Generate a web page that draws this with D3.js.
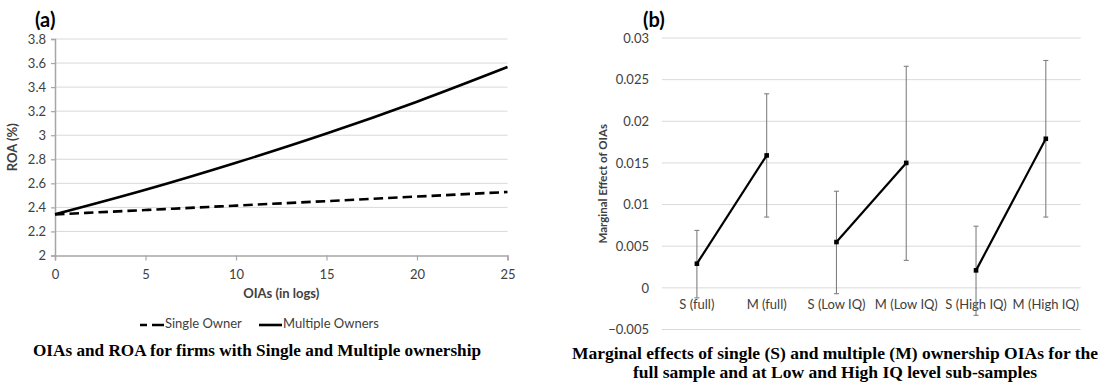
<!DOCTYPE html>
<html><head><meta charset="utf-8">
<script src="https://cdn.jsdelivr.net/npm/d3@7"></script>
<style>
body{margin:0;background:#fff;}
svg{display:block;}
</style></head>
<body>
<svg id="c" width="1099" height="383"></svg>
<script>
// ---- Panel (a) data ----
const oiaValues = [0, 5, 10, 15, 20, 25];
const singleOwner = [2.342, 2.378, 2.415, 2.452, 2.490, 2.528];
const multipleOwners = [2.342, 2.546, 2.771, 3.014, 3.279, 3.567];
const roaTicks = [2, 2.2, 2.4, 2.6, 2.8, 3, 3.2, 3.4, 3.6, 3.8];
const oiaTicks = [0, 5, 10, 15, 20, 25];

// ---- Panel (b) data ----
const categories = ["S (full)", "M (full)", "S (Low IQ)", "M (Low IQ)", "S (High IQ)", "M (High IQ)"];
const effects = [0.0029, 0.0159, 0.0055, 0.0150, 0.0021, 0.0179];
const upper = [0.0069, 0.0233, 0.0116, 0.0266, 0.0074, 0.0273];
const lower = [-0.0012, 0.0085, -0.0007, 0.0033, -0.0033, 0.0085];
const pairs = [[0, 1], [2, 3], [4, 5]];
const meTicks = [-0.005, 0, 0.005, 0.01, 0.015, 0.02, 0.025, 0.03];

const svg = d3.select("#c");
const tickFont = "Lato, 'Open Sans', sans-serif";
const serif = "'Liberation Serif', 'Times New Roman', serif";
const grid = "#d9d9d9";
const fs = 13;

// ================= Panel (a) =================
const xA = d3.scaleLinear().domain([0, 25]).range([55, 507.5]);
const yA = d3.scaleLinear().domain([2, 3.8]).range([255.5, 39]);
const gA = svg.append("g");

gA.selectAll(".grid").data(roaTicks.filter(d => d > 2)).join("line")
  .attr("x1", xA(0)).attr("x2", xA(25))
  .attr("y1", d => yA(d)).attr("y2", d => yA(d))
  .attr("stroke", grid).attr("stroke-width", 1);

const axA_y = gA.append("g").attr("transform", `translate(${xA(0)},0)`)
  .call(d3.axisLeft(yA).tickValues(roaTicks).tickFormat(d3.format("~g")).tickSize(4).tickPadding(5));
const axA_x = gA.append("g").attr("transform", `translate(0,${yA(2)})`)
  .call(d3.axisBottom(xA).tickValues(oiaTicks).tickSize(5).tickPadding(9));
[axA_y, axA_x].forEach(a => {
  a.select(".domain").attr("stroke", "#a6a6a6").attr("stroke-width", 1.5);
  a.selectAll(".tick line").attr("stroke", "#a6a6a6").attr("stroke-width", 1.2);
  a.selectAll("text").attr("font-family", tickFont).attr("font-size", fs).attr("fill", "#404040");
});

const lineA = d3.line().x((d, i) => xA(oiaValues[i])).y(d => yA(d)).curve(d3.curveMonotoneX);
gA.append("path").attr("d", lineA(singleOwner)).attr("fill", "none")
  .attr("stroke", "#000").attr("stroke-width", 2.6).attr("stroke-dasharray", "9.5,5");
gA.append("path").attr("d", lineA(multipleOwners)).attr("fill", "none")
  .attr("stroke", "#000").attr("stroke-width", 2.6);

gA.append("text").attr("x", 14).attr("y", (yA(2) + yA(3.8)) / 2)
  .attr("transform", `rotate(-90,14,${(yA(2) + yA(3.8)) / 2})`)
  .attr("text-anchor", "middle").attr("dominant-baseline", "middle")
  .attr("font-family", tickFont).attr("font-weight", "bold").attr("font-size", fs).attr("fill", "#404040")
  .text("ROA (%)");
gA.append("text").attr("x", (xA(0) + xA(25)) / 2).attr("y", 295)
  .attr("text-anchor", "middle").attr("dominant-baseline", "middle")
  .attr("font-family", tickFont).attr("font-weight", "bold").attr("font-size", fs).attr("fill", "#404040")
  .text("OIAs (in logs)");

// legend
const leg = gA.append("g").attr("transform", "translate(0,325)");
leg.append("line").attr("x1", 140).attr("x2", 164).attr("y1", 0).attr("y2", 0)
  .attr("stroke", "#000").attr("stroke-width", 2.6).attr("stroke-dasharray", "7,5,12");
leg.append("text").attr("x", 165).attr("y", 0).attr("dominant-baseline", "middle")
  .attr("font-family", tickFont).attr("font-size", fs).attr("fill", "#404040").text("Single Owner");
leg.append("line").attr("x1", 259).attr("x2", 282).attr("y1", 0).attr("y2", 0)
  .attr("stroke", "#000").attr("stroke-width", 2.6);
leg.append("text").attr("x", 283).attr("y", 0).attr("dominant-baseline", "middle")
  .attr("font-family", tickFont).attr("font-size", fs).attr("fill", "#404040").text("Multiple Owners");

gA.append("text").attr("x", 35).attr("y", 27)
  .attr("font-family", tickFont).attr("font-weight", "bold").attr("font-size", 20).attr("fill", "#000").text("(a)");

gA.append("text").attr("x", 257).attr("y", 352).attr("text-anchor", "middle").attr("dominant-baseline", "middle")
  .attr("font-family", serif).attr("font-weight", "bold").attr("font-size", 17.2)
  .text("OIAs and ROA for firms with Single and Multiple ownership");

// ================= Panel (b) =================
const xB = d3.scaleBand().domain(categories).range([662, 1080.7]);
const yB = d3.scaleLinear().domain([-0.005, 0.03]).range([329.5, 38]);
const gB = svg.append("g");

gB.selectAll(".grid").data(meTicks).join("line")
  .attr("x1", xB.range()[0]).attr("x2", xB.range()[1])
  .attr("y1", d => yB(d)).attr("y2", d => yB(d))
  .attr("stroke", grid).attr("stroke-width", 1);

const axB_y = gB.append("g").attr("transform", `translate(${xB.range()[0]},0)`)
  .call(d3.axisLeft(yB).tickValues(meTicks).tickFormat(d3.format("~g")).tickSize(0).tickPadding(13));
axB_y.select(".domain").remove();
axB_y.selectAll("text").attr("font-family", tickFont).attr("font-size", fs).attr("fill", "#404040");

const axB_x = gB.append("g").attr("transform", `translate(0,${yB(0)})`)
  .call(d3.axisBottom(xB).tickSize(0).tickPadding(12));
axB_x.select(".domain").remove();
axB_x.selectAll("text").attr("font-family", tickFont).attr("font-size", fs).attr("fill", "#404040");

const cx = i => xB(categories[i]) + xB.bandwidth() / 2;

// error bars
const eb = gB.append("g").attr("stroke", "#808080").attr("stroke-width", 1.1);
categories.forEach((c, i) => {
  eb.append("line").attr("x1", cx(i)).attr("x2", cx(i)).attr("y1", yB(lower[i])).attr("y2", yB(upper[i]));
  eb.append("line").attr("x1", cx(i) - 2.5).attr("x2", cx(i) + 2.5).attr("y1", yB(lower[i])).attr("y2", yB(lower[i]));
  eb.append("line").attr("x1", cx(i) - 2.5).attr("x2", cx(i) + 2.5).attr("y1", yB(upper[i])).attr("y2", yB(upper[i]));
});

const lineB = d3.line().x(i => cx(i)).y(i => yB(effects[i]));
pairs.forEach(p => {
  gB.append("path").attr("d", lineB(p)).attr("fill", "none").attr("stroke", "#000").attr("stroke-width", 2.2);
});
gB.selectAll(".mk").data(effects).join("rect")
  .attr("x", (d, i) => cx(i) - 2.3).attr("y", d => yB(d) - 2.3)
  .attr("width", 4.6).attr("height", 4.6).attr("fill", "#000");

gB.append("text").attr("x", 604).attr("y", (yB(-0.005) + yB(0.03)) / 2)
  .attr("transform", `rotate(-90,604,${(yB(-0.005) + yB(0.03)) / 2})`)
  .attr("text-anchor", "middle").attr("dominant-baseline", "middle")
  .attr("font-family", tickFont).attr("font-weight", "bold").attr("font-size", 11.5).attr("fill", "#404040")
  .text("Marginal Effect of OIAs");

gB.append("text").attr("x", 643).attr("y", 27)
  .attr("font-family", tickFont).attr("font-weight", "bold").attr("font-size", 20).attr("fill", "#000").text("(b)");

const cap = gB.append("text").attr("text-anchor", "middle")
  .attr("font-family", serif).attr("font-weight", "bold").attr("font-size", 17.5);
cap.append("tspan").attr("x", 835).attr("y", 359).text("Marginal effects of single (S) and multiple (M) ownership OIAs for the");
cap.append("tspan").attr("x", 835).attr("y", 378).text("full sample and at Low and High IQ level sub-samples");
</script>
</body></html>
